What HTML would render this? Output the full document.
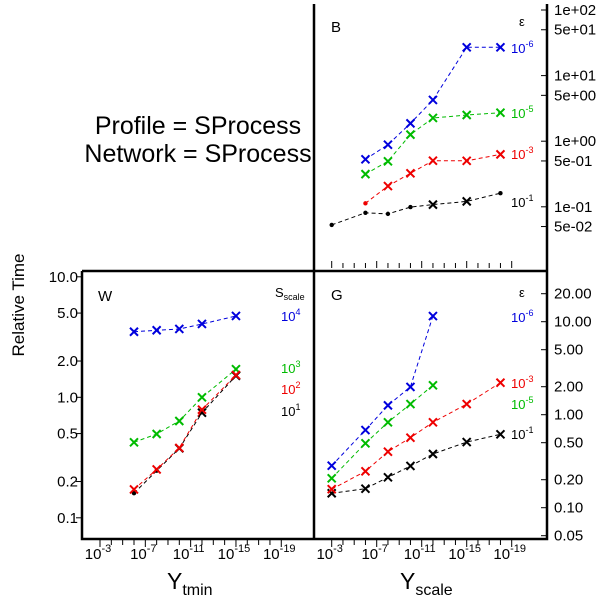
<!DOCTYPE html>
<html><head><meta charset="utf-8"><style>
body{margin:0;background:#fff;}
svg{display:block;font-family:"Liberation Sans",sans-serif;}
</style></head><body>
<svg id="c" width="600" height="596" viewBox="0 0 600 596">
<text x="198" y="134" font-size="25" text-anchor="middle">Profile = SProcess</text>
<text x="198" y="162" font-size="25" text-anchor="middle">Network = SProcess</text>
<text transform="translate(24,305) rotate(-90)" font-size="17" text-anchor="middle">Relative Time</text>
<text x="167" y="589" font-size="23">Y<tspan font-size="16" dy="6">tmin</tspan></text>
<text x="400" y="589" font-size="23">Y<tspan font-size="16" dy="6">scale</tspan></text>
</svg>
<script>
// ---- data ----
const bExps=[3,6,8,10,12,15,18];
const bBlack=[0.053,0.081,0.078,0.099,0.108,0.121,0.161];
const bRed=[null,0.113,0.207,0.324,0.505,0.503,0.63];
const bGreen=[null,0.315,0.494,1.26,2.26,2.51,2.72];
const bBlue=[null,0.53,0.885,1.87,4.25,27,27];
const gExps=[3,6,8,10,12,15,18];
const gBlack=[0.143,0.16,0.212,0.281,0.378,0.508,0.615];
const gRed=[0.158,0.246,0.4,0.566,0.828,1.30,2.21];
const gGreen=[0.207,0.492,0.828,1.30,2.07,null,null];
const gBlue=[0.283,0.684,1.26,1.99,11.5,null,null];
const wExps=[6,8,10,12,15];
const wBlue=[3.5,3.6,3.69,4.06,4.73];
const wGreen=[0.423,0.496,0.636,1.0,1.71];
const wRed=[0.172,0.252,0.38,0.789,1.53];
const wBlack=[0.16,0.246,0.377,0.745,1.51];
const xTickExps=[3,7,11,15,19];
const bYTicks=["1e+02","5e+01","1e+01","5e+00","1e+00","5e-01","1e-01","5e-02"];
const bYVals=[100,50,10,5,1,0.5,0.1,0.05];
const gYTicks=["20.00","10.00","5.00","2.00","1.00","0.50","0.20","0.10","0.05"];
const gYVals=[20,10,5,2,1,0.5,0.2,0.1,0.05];
const wYTicks=["10.0","5.0","2.0","1.0","0.5","0.2","0.1"];
const wYVals=[10,5,2,1,0.5,0.2,0.1];
// ---- scales ----
const xR=e=>331.7+(e-3)*11.25;
const xW=e=>100+(e-3)*11.33;
const yB=v=>10+(2-Math.log10(v))*65.6;
const yG=v=>321.7+(1-Math.log10(v))*93;
const yW=v=>397.3-Math.log10(v)*120.5;
const svg=document.getElementById('c');
const NS='http://www.w3.org/2000/svg';
function mk(tag,at,parent){const e=document.createElementNS(NS,tag);for(const k in at)e.setAttribute(k,at[k]);(parent||svg).appendChild(e);return e;}
let el;
el=mk('path',{d:'M314,4 V539 H547 V4 M82,271 H547 M82,271 V539 H314',fill:'none',stroke:'#000','stroke-width':2.5});


function panelLabel(x,y,t,name){const e=mk('text',{x:x,y:y,'font-size':15});e.textContent=t;

}
panelLabel(331,32,'B','panel-label-b');panelLabel(331,300,'G','panel-label-g');panelLabel(98,301,'W','panel-label-w');
function xAxis(sx,y0,dir,labels,name){
  const g=mk('g',{});
  
  
  for(let e=3;e<=19;e++){const x=sx(e);mk('line',{x1:x,x2:x,y1:y0,y2:y0+dir*(e%4==3?7:5),stroke:'#000','stroke-width':1},g);}
  if(labels)xTickExps.forEach(e=>{const t=mk('text',{x:sx(e)-2,y:559,'font-size':15,'text-anchor':'middle'},g);
    t.innerHTML='10<tspan font-size="11" dy="-7">-'+e+'</tspan>';});
}
xAxis(xR,268,-1,false,'x-axis-b');
xAxis(xR,540,1,true,'x-axis-g');
xAxis(xW,540,1,true,'x-axis-w');
function yAxis(sy,vals,labs,x0,dir,tx,anchor,name){
  const g=mk('g',{});
  
  
  vals.forEach((v,i)=>{const y=sy(v);mk('line',{x1:x0,x2:x0+dir*6,y1:y,y2:y,stroke:'#000','stroke-width':1},g);
   const t=mk('text',{x:tx,y:y+5,'font-size':15,'text-anchor':anchor},g);t.textContent=labs[i];});
}
yAxis(yB,bYVals,bYTicks,547,-1,554,'start','y-axis-b');
yAxis(yG,gYVals,gYTicks,547,-1,554,'start','y-axis-g');
yAxis(yW,wYVals,wYTicks,82,-1,78,'end','y-axis-w');
function series(xs,vals,sx,sy,color,markers,name){
  const g=mk('g',{});
  
  
  let d='';vals.forEach((v,i)=>{if(v==null)return;d+=(d?'L':'M')+sx(xs[i]).toFixed(1)+','+sy(v).toFixed(1);});
  mk('path',{d:d,fill:'none',stroke:color,'stroke-width':1,'stroke-dasharray':'4,3'},g);
  vals.forEach((v,i)=>{if(v==null)return;const x=sx(xs[i]),y=sy(v);
    if(markers&&markers[i]=='o'){mk('circle',{cx:x,cy:y,r:2.2,fill:color},g);}
    else{mk('path',{d:`M${x-4},${y-4}L${x+4},${y+4}M${x-4},${y+4}L${x+4},${y-4}`,stroke:color,'stroke-width':2},g);}
  });
}
series(bExps,bBlack,xR,yB,'#000',['o','o','o','o','x','x','o'],'series-b-1e-1');
series(bExps,bRed,xR,yB,'#e00',['o','o','x','x','x','x','x'],'series-b-1e-3');
series(bExps,bGreen,xR,yB,'#0b0',null,'series-b-1e-5');
series(bExps,bBlue,xR,yB,'#00d',null,'series-b-1e-6');
series(gExps,gBlack,xR,yG,'#000',null,'series-g-1e-1');
series(gExps,gRed,xR,yG,'#e00',null,'series-g-1e-3');
series(gExps,gGreen,xR,yG,'#0b0',null,'series-g-1e-5');
series(gExps,gBlue,xR,yG,'#00d',null,'series-g-1e-6');
series(wExps,wBlue,xW,yW,'#00d',null,'series-w-1e4');
series(wExps,wGreen,xW,yW,'#0b0',null,'series-w-1e3');
series(wExps,wBlack,xW,yW,'#000',['o','o','x','x','x'],'series-w-1e1');
series(wExps,wRed,xW,yW,'#e00',null,'series-w-1e2');
function lab(x,y,base,exp,color,name){const t=mk('text',{x:x,y:y,'font-size':13,fill:color});
  t.innerHTML=base+(exp!==''?'<tspan font-size="9" dy="-6">'+exp+'</tspan>':'');
  
  }
lab(519,26,'ε','','#000','legend-title-b');
lab(511,53,'10','-6','#00d','legend-b-1e-6');
lab(511,118,'10','-5','#0b0','legend-b-1e-5');
lab(511,159,'10','-3','#e00','legend-b-1e-3');
lab(511,207,'10','-1','#000','legend-b-1e-1');
lab(519,297,'ε','','#000','legend-title-g');
lab(511,322,'10','-6','#00d','legend-g-1e-6');
lab(511,388,'10','-3','#e00','legend-g-1e-3');
lab(511,409,'10','-5','#0b0','legend-g-1e-5');
lab(511,439,'10','-1','#000','legend-g-1e-1');
const ss=mk('text',{x:275,y:297,'font-size':13});ss.innerHTML='S<tspan font-size="9" dy="3">scale</tspan>';


lab(281,321,'10','4','#00d','legend-w-1e4');
lab(281,373,'10','3','#0b0','legend-w-1e3');
lab(281,394,'10','2','#e00','legend-w-1e2');
lab(281,416,'10','1','#000','legend-w-1e1');
</script>
</body></html>
